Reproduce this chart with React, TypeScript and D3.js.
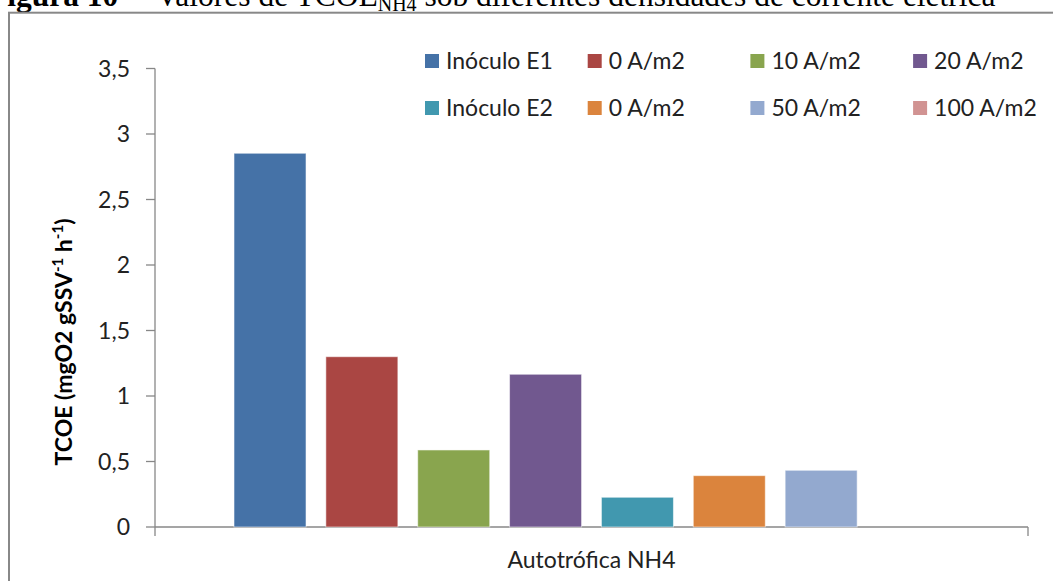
import React from "react";
import * as d3 from "d3";

// Chart data
const categories = ["Autotrófica NH4"];
const seriesNames = [
  "Inóculo E1",
  "0 A/m2",
  "10 A/m2",
  "20 A/m2",
  "Inóculo E2",
  "0 A/m2",
  "50 A/m2",
  "100 A/m2",
];
const seriesValues = [2.853, 1.3, 0.588, 1.166, 0.227, 0.392, 0.433, 0];
const seriesColors = [
  "#4572A7",
  "#AA4643",
  "#89A54E",
  "#71588F",
  "#4198AF",
  "#DB843D",
  "#93A9CF",
  "#D19392",
];
const yTickValues = [0, 0.5, 1, 1.5, 2, 2.5, 3, 3.5];

const W = 1053;
const H = 581;
const plot = { left: 155, right: 1028, top: 68.5, bottom: 527 };
const FONT = "Lato, 'Open Sans', sans-serif";
const AXIS = "#878787";

export default function App() {
  const y = d3.scaleLinear().domain([0, 3.5]).range([plot.bottom, plot.top]);
  const x0 = d3.scaleBand<string>().domain(categories).range([plot.left, plot.right]);
  const x1 = d3
    .scaleBand<number>()
    .domain(d3.range(seriesNames.length))
    .range([0, x0.bandwidth()])
    .paddingInner(0.216)
    .paddingOuter(0.86);

  const fmt = (v: number) => String(v).replace(".", ",");

  const legendX = d3.scaleLinear().domain([0, 1]).range([425, 587.7]);
  const legendY = d3.scaleLinear().domain([0, 1]).range([61, 108]);

  return (
    <svg
      width={W}
      height={H}
      style={{ position: "absolute", left: 0, top: 0, background: "#fff" }}
    >
      {/* caption above the chart frame */}
      <text
        x={-12}
        y={5.5}
        fontFamily="'Liberation Serif', 'Times New Roman', serif"
        fontSize={31.5}
        fill="#000"
      >
        <tspan fontWeight="bold">Figura 10</tspan>
        <tspan x={133}>– Valores de TCOE</tspan>
        <tspan fontSize={20} dy={5}>NH4</tspan>
        <tspan dy={-5}> sob diferentes densidades de corrente elétrica</tspan>
      </text>

      {/* chart frame */}
      <rect x={9} y={12.7} width={1060} height={600} fill="none" stroke="#888" strokeWidth={2} />

      {/* y axis */}
      <line x1={plot.left} x2={plot.left} y1={plot.top} y2={plot.bottom + 9} stroke={AXIS} strokeWidth={1.3} />
      {yTickValues.map((v) => (
        <g key={v}>
          <line x1={plot.left - 9} x2={plot.left} y1={y(v)} y2={y(v)} stroke={AXIS} strokeWidth={1.3} />
          <text
            x={130}
            y={y(v)}
            dy="0.35em"
            textAnchor="end"
            fontFamily={FONT}
            fontSize={23}
            fill="#222"
          >
            {fmt(v)}
          </text>
        </g>
      ))}

      {/* x axis */}
      <line x1={plot.left} x2={plot.right} y1={plot.bottom} y2={plot.bottom} stroke={AXIS} strokeWidth={1.3} />
      <line x1={plot.right} x2={plot.right} y1={plot.bottom} y2={plot.bottom + 9} stroke={AXIS} strokeWidth={1.3} />
      {categories.map((c) => (
        <text
          key={c}
          x={(x0(c) as number) + x0.bandwidth() / 2}
          y={568}
          textAnchor="middle"
          fontFamily={FONT}
          fontSize={23}
          fill="#222"
        >
          {c}
        </text>
      ))}

      {/* bars */}
      {categories.map((c) => (
        <g key={c}>
          {seriesValues.map((v, i) =>
            v > 0 ? (
              <rect
                key={i}
                x={(x0(c) as number) + (x1(i) as number)}
                y={y(v)}
                width={x1.bandwidth()}
                height={y(0) - y(v)}
                fill={seriesColors[i]}
                stroke="#ffffff"
                strokeOpacity={0.55}
                strokeWidth={1}
              />
            ) : null
          )}
        </g>
      ))}

      {/* y axis title */}
      <text
        transform={`translate(72, 342) rotate(-90)`}
        textAnchor="middle"
        fontFamily={FONT}
        fontWeight="bold"
        fontSize={23}
        fill="#000"
      >
        TCOE (mgO2 gSSV
        <tspan fontSize={15} dy={-9}>-1</tspan>
        <tspan dy={9}> h</tspan>
        <tspan fontSize={15} dy={-9}>-1</tspan>
        <tspan dy={9}>)</tspan>
      </text>

      {/* legend */}
      {seriesNames.map((name, i) => {
        const col = i % 4;
        const row = Math.floor(i / 4);
        const lx = legendX(col);
        const ly = legendY(row);
        return (
          <g key={i}>
            <rect x={lx} y={ly - 7} width={14} height={14} fill={seriesColors[i]} />
            <text x={lx + 21} y={ly} dy="0.36em" fontFamily={FONT} fontSize={23} fill="#222">
              {name}
            </text>
          </g>
        );
      })}
    </svg>
  );
}
